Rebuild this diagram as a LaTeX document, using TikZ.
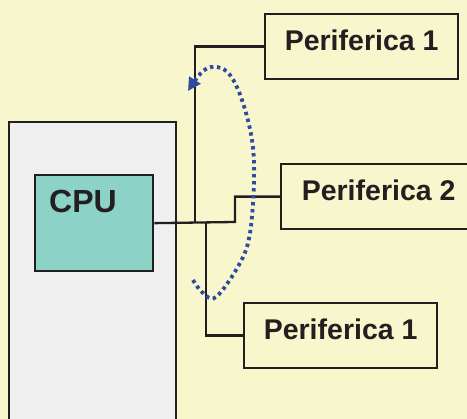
\documentclass[tikz,border=0pt]{standalone}
\usepackage{fontspec}
\setmainfont{Liberation Sans}
\usepackage{tikz}
\usetikzlibrary{positioning,arrows.meta,calc}
\usepackage{xcolor}
\definecolor{paper}{HTML}{F8F6CC}
\definecolor{case}{HTML}{EFEFEF}
\definecolor{chip}{HTML}{8CD2C7}
\definecolor{ink}{HTML}{231F20}
\definecolor{poll}{HTML}{2E4BA0}
\tikzset{
  wire/.style={draw=ink,line width=2.3pt},
  unit/.style={draw=ink,line width=2.3pt,rectangle,inner sep=0pt,anchor=north west},
  perif/.style={unit,minimum width=193pt,minimum height=65pt,
    font=\fontsize{28.5}{30}\selectfont\bfseries,text=ink,text height=21pt,text depth=14pt},
  polling/.style={draw=poll,line width=3.8pt,dash pattern=on 3.4pt off 3.6pt,-{Triangle[length=13pt,width=13pt]}}
}

\begin{document}
\begin{tikzpicture}[x=1pt,y=-1pt]
    \path[clip](0,0)rectangle(467,419);
    \fill[paper](0,0)rectangle(467,419);
    % host machine and processor
    \node[unit,fill=case,minimum width=167pt,minimum height=320pt](host)at(8,121){};
    \node[unit,fill=chip,minimum width=118pt,minimum height=96pt](cpu)at(34,174){};
    \node[anchor=base west,inner sep=0pt,font=\fontsize{32}{34}\selectfont\bfseries,text=ink](cpulbl)at(49,213){CPU};
    % peripherals
    \node[perif](p1a)at(264,13){Periferica 1};
    \node[perif,minimum width=195pt](p2)at(280,163){Periferica 2};
    \node[perif](p1b)at(243,302){Periferica 1};
    % bus
    \coordinate(tapa)at(195,222);\coordinate(tapb)at(206,222);\coordinate(bend)at(235,222);
    \draw[wire](cpu.east)--(bend)|-(p2.west);
    \draw[wire](tapa)|-(p1a.west);
    \draw[wire](tapb)|-(p1b.west);
    % polling loop
    \draw[polling]plot[smooth,tension=0.6]coordinates{(193,280)(202,292)(216,297)(240,263)(250,233)(254,180)(252,140)(242,100)(230,75)(217,67)(203,71)(188,91)};
  \end{tikzpicture}
\end{document}
